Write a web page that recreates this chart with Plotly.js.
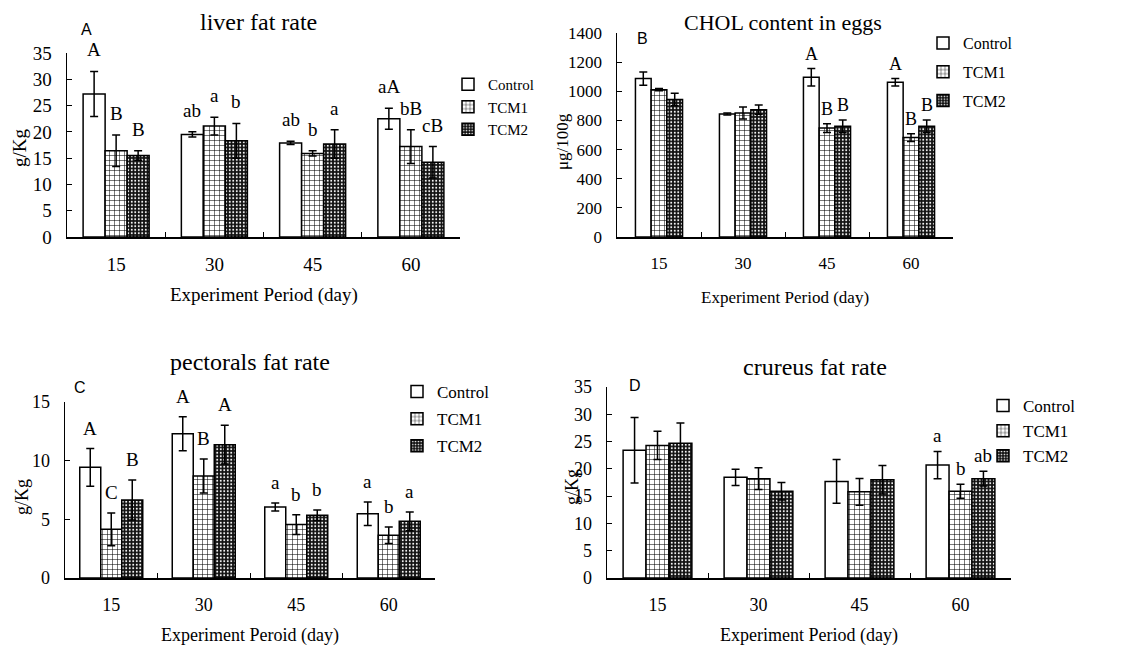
<!DOCTYPE html>
<html>
<head>
<meta charset="utf-8">
<script src="https://cdn.plot.ly/plotly-3.0.1.min.js"></script>
<style>
  html, body { margin: 0; padding: 0; background: #fff; }
  #chart { width: 1127px; height: 649px; }
</style>
</head>
<body>
<div id="chart"></div>
<script>
// ---------------- DATA ----------------
const days = ['15', '30', '45', '60'];
const seriesNames = ['Control', 'TCM1', 'TCM2'];

// A: liver fat rate (g/Kg)
const liverControl = [27.2, 19.5, 17.9, 22.5];
const liverControlErr = [4.3, 0.5, 0.3, 2.0];
const liverTCM1 = [16.4, 21.1, 15.9, 17.2];
const liverTCM1Err = [3.0, 1.7, 0.5, 3.2];
const liverTCM2 = [15.5, 18.3, 17.7, 14.2];
const liverTCM2Err = [0.9, 3.3, 2.7, 3.0];
const liverLabControl = ['A', 'ab', 'ab', 'aA'];
const liverLabTCM1 = ['B', 'a', 'b', 'bB'];
const liverLabTCM2 = ['B', 'b', 'a', 'cB'];

// B: CHOL content in eggs (μg/100g)
const cholControl = [1087, 844, 1096, 1062];
const cholControlErr = [45, 7, 60, 25];
const cholTCM1 = [1011, 851, 748, 682];
const cholTCM1Err = [8, 41, 30, 27];
const cholTCM2 = [943, 874, 760, 760];
const cholTCM2Err = [43, 32, 43, 43];
const cholLabControl = ['', '', 'A', 'A'];
const cholLabTCM1 = ['', '', 'B', 'B'];
const cholLabTCM2 = ['', '', 'B', 'B'];

// C: pectorals fat rate (g/Kg)
const pectControl = [9.43, 12.3, 6.05, 5.48];
const pectControlErr = [1.6, 1.45, 0.35, 1.0];
const pectTCM1 = [4.15, 8.7, 4.55, 3.64];
const pectTCM1Err = [1.4, 1.45, 0.85, 0.7];
const pectTCM2 = [6.65, 11.36, 5.34, 4.83];
const pectTCM2Err = [1.7, 1.65, 0.45, 0.8];
const pectLabControl = ['A', 'A', 'a', 'a'];
const pectLabTCM1 = ['C', 'B', 'b', 'b'];
const pectLabTCM2 = ['B', 'A', 'b', 'a'];

// D: crureus fat rate (g/Kg)
const crurControl = [23.4, 18.45, 17.7, 20.7];
const crurControlErr = [6.0, 1.5, 4.0, 2.5];
const crurTCM1 = [24.3, 18.2, 15.8, 15.9];
const crurTCM1Err = [2.6, 2.0, 2.45, 1.3];
const crurTCM2 = [24.7, 15.9, 18.0, 18.2];
const crurTCM2Err = [3.7, 1.6, 2.6, 1.35];
const crurLabControl = ['', '', '', 'a'];
const crurLabTCM1 = ['', '', '', 'b'];
const crurLabTCM2 = ['', '', '', 'ab'];

// ---------------- LAYOUT HELPERS ----------------
const W = 1127, H = 649;
const px = v => v / W;
const py = v => 1 - v / H;
const SERIF = 'Liberation Serif, Times New Roman, serif';
const SANS = 'Liberation Sans, Arial, sans-serif';

const panels = [
  { id: '', title: 'liver fat rate', letter: 'A', xtitle: 'Experiment Period (day)', ytitle: 'g/Kg',
    means: [liverControl, liverTCM1, liverTCM2], errs: [liverControlErr, liverTCM1Err, liverTCM2Err],
    labs: [liverLabControl, liverLabTCM1, liverLabTCM2],
    box: { x0: 67, x1: 460, y0: 237, y1: 53 }, range: [0, 35], dtick: 5, bw: 0.224,
    titlePos: [258, 22], letterPos: [86, 30], xtPos: 295, ytPos: [19, 148], legPos: [448, 68],
    legFont: 15, legGap: 0,
    tfs: 24, tick: 19, axt: 19, lab: 19, ls: 9 },
  { id: '2', title: 'CHOL content in eggs', letter: 'B', xtitle: 'Experiment Period (day)', ytitle: 'μg/100g',
    means: [cholControl, cholTCM1, cholTCM2], errs: [cholControlErr, cholTCM1Err, cholTCM2Err],
    labs: [cholLabControl, cholLabTCM1, cholLabTCM2],
    box: { x0: 617, x1: 953, y0: 237, y1: 33 }, range: [0, 1400], dtick: 200, bw: 0.187,
    titlePos: [783, 22], letterPos: [642, 38], xtPos: 298, ytPos: [562, 142], legPos: [923, 26],
    legFont: 16, legGap: 5,
    tfs: 22, tick: 17, axt: 17, lab: 18, ls: 3 },
  { id: '3', title: 'pectorals fat rate', letter: 'C', xtitle: 'Experiment Peroid (day)', ytitle: 'g/Kg',
    means: [pectControl, pectTCM1, pectTCM2], errs: [pectControlErr, pectTCM1Err, pectTCM2Err],
    labs: [pectLabControl, pectLabTCM1, pectLabTCM2],
    box: { x0: 65, x1: 435, y0: 578, y1: 402 }, range: [0, 15], dtick: 5, bw: 0.227,
    titlePos: [250, 362], letterPos: [80, 387], xtPos: 635, ytPos: [22, 497], legPos: [397, 374],
    legFont: 17, legGap: 2,
    tfs: 24, tick: 18, axt: 18, lab: 19, ls: 8 },
  { id: '4', title: 'crureus fat rate', letter: 'D', xtitle: 'Experiment Period (day)', ytitle: 'g/Kg',
    means: [crurControl, crurTCM1, crurTCM2], errs: [crurControlErr, crurTCM1Err, crurTCM2Err],
    labs: [crurLabControl, crurLabTCM1, crurLabTCM2],
    box: { x0: 607, x1: 1011, y0: 578, y1: 387 }, range: [0, 35], dtick: 5, bw: 0.227,
    titlePos: [815, 367], letterPos: [635, 385], xtPos: 635, ytPos: [572, 487], legPos: [983, 388],
    legFont: 17, legGap: 0,
    tfs: 24, tick: 18, axt: 18, lab: 19, ls: 3 }
];

const styles = [
  { color: '#ffffff', pattern: { shape: '' } },
  { color: '#ffffff', pattern: { shape: '+', size: 5, solidity: 0.2, fgcolor: '#000000', bgcolor: '#ffffff', fillmode: 'replace' } },
  { color: '#000000', pattern: { shape: '.', size: 3.5, solidity: 0.25, fgcolor: '#ffffff', bgcolor: '#111111', fillmode: 'replace' } }
];

const traces = [];
const annotations = [];
const layout = {
  width: W, height: H,
  margin: { l: 0, r: 0, t: 0, b: 0 },
  paper_bgcolor: '#ffffff', plot_bgcolor: 'rgba(0,0,0,0)',
  barmode: 'group',
  showlegend: true,
  font: { family: SERIF, color: '#000' }
};

panels.forEach((p, pi) => {
  const xa = 'x' + p.id, ya = 'y' + p.id;
  const legName = 'legend' + p.id;
  p.means.forEach((m, s) => {
    const off = (s - 1.5) * p.bw;
    traces.push({
      type: 'bar', name: seriesNames[s],
      x: days, y: m,
      xaxis: xa, yaxis: ya,
      width: p.bw, offset: off,
      legend: legName, legendgroup: 'p' + pi + 's' + s,
      marker: { color: styles[s].color, pattern: styles[s].pattern, line: { color: '#000', width: 1.5 } },
      error_y: { type: 'data', array: p.errs[s], visible: true, color: '#000', thickness: 1.5, width: 4 },
      hoverinfo: 'skip'
    });
    p.labs[s].forEach((t, i) => {
      if (!t) return;
      annotations.push({
        xref: xa, yref: ya, x: i + off + p.bw / 2, y: m[i] + p.errs[s][i],
        text: t, showarrow: false, yanchor: 'bottom', xanchor: 'center', yshift: p.ls,
        font: { family: SERIF, size: p.lab, color: '#000' }
      });
    });
  });

  const axKeyX = 'xaxis' + p.id, axKeyY = 'yaxis' + p.id;
  layout[axKeyX] = {
    domain: [px(p.box.x0), px(p.box.x1)],
    anchor: ya, type: 'category', range: [-0.5, 3.5],
    showline: true, linecolor: '#000', linewidth: 1.5,
    ticks: 'inside', tickson: 'boundaries', ticklen: 5, tickcolor: '#000', tickwidth: 1,
    showgrid: false, zeroline: false, fixedrange: true,
    ticklabelstandoff: 10,
    tickfont: { family: SERIF, size: p.tick, color: '#000' }
  };
  layout[axKeyY] = {
    domain: [py(p.box.y0), py(p.box.y1)],
    anchor: xa, range: p.range, dtick: p.dtick, tick0: 0,
    showline: true, linecolor: '#000', linewidth: 1.5,
    ticks: 'inside', ticklen: 5, tickcolor: '#000', tickwidth: 1,
    showgrid: false, zeroline: false, fixedrange: true,
    ticklabelstandoff: 10,
    tickfont: { family: SERIF, size: p.tick, color: '#000' }
  };
  layout[legName] = {
    x: px(p.legPos[0]), y: py(p.legPos[1]), xanchor: 'left', yanchor: 'top',
    xref: 'paper', yref: 'paper',
    bgcolor: 'rgba(0,0,0,0)', borderwidth: 0,
    font: { family: SERIF, size: p.legFont, color: '#000' },
    tracegroupgap: p.legGap, itemwidth: 30, traceorder: 'grouped'
  };

  annotations.push({ xref: 'paper', yref: 'paper', x: px(p.titlePos[0]), y: py(p.titlePos[1]),
    text: p.title, showarrow: false, xanchor: 'center', yanchor: 'middle',
    font: { family: SERIF, size: p.tfs, color: '#000' } });
  annotations.push({ xref: 'paper', yref: 'paper', x: px(p.letterPos[0]), y: py(p.letterPos[1]),
    text: p.letter, showarrow: false, xanchor: 'center', yanchor: 'middle',
    font: { family: SANS, size: 16, color: '#000' } });
  annotations.push({ xref: 'paper', yref: 'paper', x: px((p.box.x0 + p.box.x1) / 2), y: py(p.xtPos),
    text: p.xtitle, showarrow: false, xanchor: 'center', yanchor: 'middle',
    font: { family: SERIF, size: p.axt, color: '#000' } });
  annotations.push({ xref: 'paper', yref: 'paper', x: px(p.ytPos[0]), y: py(p.ytPos[1]),
    text: p.ytitle, showarrow: false, xanchor: 'center', yanchor: 'middle', textangle: -90,
    font: { family: SERIF, size: p.axt, color: '#000' } });
});

layout.annotations = annotations;

Plotly.newPlot('chart', traces, layout, { displayModeBar: false, staticPlot: true });
</script>
</body>
</html>
